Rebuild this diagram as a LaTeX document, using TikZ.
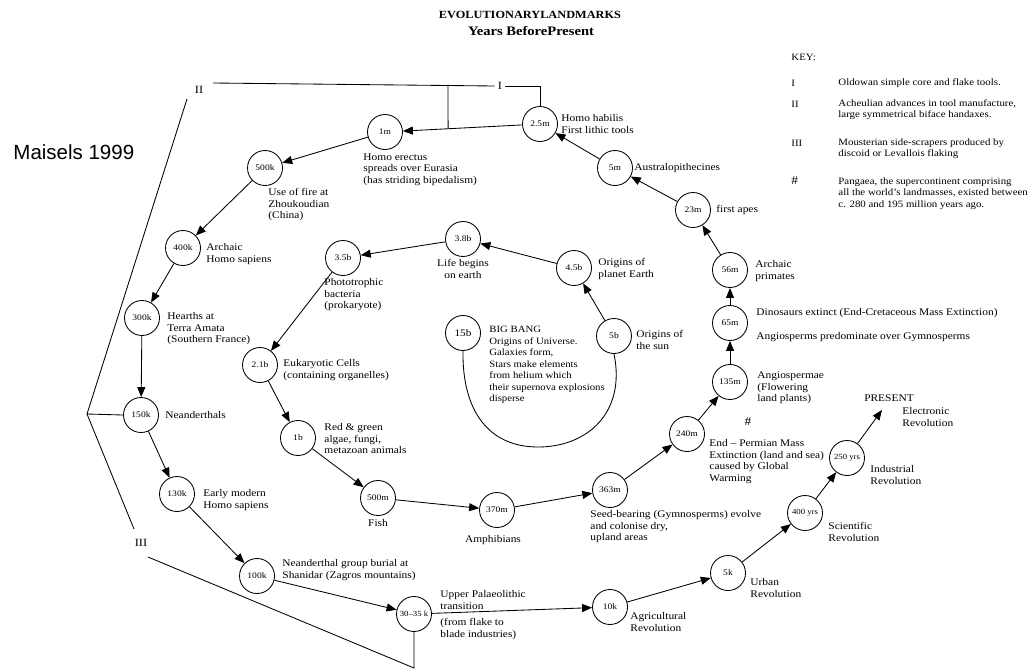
\documentclass[tikz,border=0pt]{standalone}
\usepackage{fontspec}
\setmainfont{Liberation Serif}[FakeStretch=1.12]
\newfontfamily\maisfont{Liberation Sans}
\usetikzlibrary{arrows.meta, calc}

\begin{document}
\begin{tikzpicture}[x=1pt, y=-1pt, >={Triangle[length=10pt, width=8pt]}, line width=0.85pt,
    yr/.style={circle, draw, minimum size=35pt, inner sep=0pt, font=\fontsize{8.5}{9}\selectfont},
    note/.style={align=left, inner sep=0pt, font=\fontsize{10.2}{11.5}\selectfont},
    keytext/.style={align=left, inner sep=0pt, font=\fontsize{9.7}{11.5}\selectfont},
    numeral/.style={inner sep=3pt, font=\fontsize{11}{12}\selectfont},
    ttl/.style={inner sep=0pt, font=\fontsize{11}{13}\selectfont\bfseries}]
    \useasboundingbox (0,0) rectangle (1033,670);

    \node[ttl] (title) at (530,15) {EVOLUTIONARYLANDMARKS};
    \node[ttl, font=\fontsize{13}{14}\selectfont\bfseries] (subtitle) at (531,31) {Years BeforePresent};
    \node[anchor=west, inner sep=0pt] (src) at (13,152) {\maisfont\fontsize{20.5}{24}\selectfont Maisels 1999};

    \node[keytext, anchor=west] (key) at (791,57) {KEY:};
    \node[keytext, anchor=west] (kI) at (791,83) {I};
    \node[keytext, anchor=west] (kII) at (791,104) {II};
    \node[keytext, anchor=west] (kIII) at (791,143) {III};
    \node[keytext, anchor=west, font=\fontsize{12}{12}\selectfont] (kH) at (791,181) {\#};
    \node[keytext, anchor=north west] (kIt) at (838,78) {Oldowan simple core and flake tools.};
    \node[keytext, anchor=north west] (kIIt) at (838,99) {Acheulian advances in tool manufacture,\\large symmetrical biface handaxes.};
    \node[keytext, anchor=north west] (kIIIt) at (838,138) {Mousterian side-scrapers produced by\\discoid or Levallois flaking};
    \node[keytext, anchor=north west] (kHt) at (838,177) {Pangaea, the supercontinent comprising\\all the world's landmasses, existed between\\c. 280 and 195 million years ago.};

    \node[yr] (m25) at (540,124) {2.5m};
    \node[yr] (m1) at (385,132) {1m};
    \node[yr] (k500) at (265,168) {500k};
    \node[yr] (k400) at (183,248) {400k};
    \node[yr] (k300) at (142,318) {300k};
    \node[yr] (k150) at (141,415) {150k};
    \node[yr] (k130) at (177,494) {130k};
    \node[yr] (k100) at (257,576) {100k};
    \node[yr, font=\fontsize{7.8}{9}\selectfont] (k30) at (414,614) {30--35 k};
    \node[yr] (k10) at (610,607) {10k};
    \node[yr] (k5) at (728,573) {5k};
    \node[yr, font=\fontsize{7.8}{9}\selectfont] (y400) at (805,513) {400 yrs};
    \node[yr, font=\fontsize{7.8}{9}\selectfont] (y250) at (847,458) {250 yrs};
    \node[yr, font=\fontsize{10}{11}\selectfont] (b15) at (463,333) {15b};
    \node[yr] (b5) at (614,336) {5b};
    \node[yr] (b45) at (574,268) {4.5b};
    \node[yr] (b38) at (463,239) {3.8b};
    \node[yr] (b35) at (343,258) {3.5b};
    \node[yr] (b21) at (260,365) {2.1b};
    \node[yr] (b1) at (298,438) {1b};
    \node[yr] (m500) at (378,498) {500m};
    \node[yr] (m370) at (497,510) {370m};
    \node[yr] (m363) at (610,490) {363m};
    \node[yr] (m240) at (687,434) {240m};
    \node[yr] (m135) at (730,382) {135m};
    \node[yr] (m65) at (730,323) {65m};
    \node[yr] (m56) at (730,270) {56m};
    \node[yr] (m23) at (693,210) {23m};
    \node[yr] (m5) at (615,168) {5m};

    \node[note, anchor=west] (t25) at (561,124) {Homo habilis\\First lithic tools};
    \node[note, anchor=north west] (t1) at (363,153) {Homo erectus\\spreads over Eurasia\\(has striding bipedalism)};
    \node[note, anchor=north west] (t500k) at (268,188) {Use of fire at\\Zhoukoudian\\(China)};
    \node[note, anchor=north west] (t400k) at (206,243) {Archaic\\Homo sapiens};
    \node[note, anchor=north west] (t300k) at (167,312) {Hearths at\\Terra Amata\\(Southern France)};
    \node[note, anchor=west] (t150k) at (165,415) {Neanderthals};
    \node[note, anchor=north west] (t130k) at (203,489) {Early modern\\Homo sapiens};
    \node[note, anchor=north west] (t100k) at (282,559) {Neanderthal group burial at\\Shanidar (Zagros mountains)};
    \node[note, anchor=south west] (t30a) at (440,610) {Upper Palaeolithic\\transition};
    \node[note, anchor=north west] (t30b) at (440,618) {(from flake to\\blade industries)};
    \node[note, anchor=north west] (t10k) at (630,612) {Agricultural\\Revolution};
    \node[note, anchor=north west] (t5k) at (750,578) {Urban\\Revolution};
    \node[note, anchor=north west] (t400y) at (828,522) {Scientific\\Revolution};
    \node[note, anchor=north west] (t250y) at (870,465) {Industrial\\Revolution};
    \node[note] (pres) at (889,398) {PRESENT};
    \node[note, anchor=north west] (tnow) at (902,407) {Electronic\\Revolution};
    \node[note, anchor=west] (t135) at (757,388) {Angiospermae\\(Flowering\\land plants)};
    \node[note, anchor=west] (t65a) at (756,313) {Dinosaurs extinct (End-Cretaceous Mass Extinction)};
    \node[note, anchor=west] (t65b) at (756,337) {Angiosperms predominate over Gymnosperms};
    \node[note, anchor=west] (t56) at (755,271) {Archaic\\primates};
    \node[note, anchor=west] (t23) at (716,210) {first apes};
    \node[note, anchor=west] (t5m) at (634,168) {Australopithecines};
    \node[note, anchor=west] (t45) at (598,269) {Origins of\\planet Earth};
    \node[note, anchor=west] (t5b) at (636,340) {Origins of\\the sun};
    \node[note, anchor=north, align=center] (t38) at (463,259) {Life begins\\on earth};
    \node[note, anchor=north west] (t35) at (324,278) {Phototrophic\\bacteria\\(prokaryote)};
    \node[note, anchor=west] (t21) at (283,370) {Eukaryotic Cells\\(containing organelles)};
    \node[note, anchor=west] (t1b) at (324,439) {Red \& green\\algae, fungi,\\metazoan animals};
    \node[note, anchor=north] (t500m) at (378,519) {Fish};
    \node[note, anchor=north] (t370) at (493,535) {Amphibians};
    \node[note, anchor=north west] (t363) at (590,510) {Seed-bearing (Gymnosperms) evolve\\and colonise dry,\\upland areas};
    \node[note, anchor=north west] (t240) at (709,439) {End -- Permian Mass\\Extinction (land and sea)\\caused by Global\\Warming};
    \node[note, font=\fontsize{12}{12}\selectfont] (hash) at (748,422) {\#};
    \node[note, anchor=north west, font=\fontsize{9.6}{11.5}\selectfont] (t15) at (489,326) {BIG BANG\\Origins of Universe.\\Galaxies form,\\Stars make elements\\from helium which\\their supernova explosions\\disperse};

    \node[numeral] (lI) at (500,86) {I};
    \node[numeral] (lII) at (199,90) {II};
    \node[numeral] (lIII) at (141,543) {III};
    \coordinate (topL) at (213,83);
    \coordinate (jT) at (448,84.5);
    \coordinate (jE) at ($(m25)!0.593!(m1)$);
    \coordinate (iiB) at (187,99);
    \coordinate (jL) at (87,414);
    \coordinate (iiiT) at (134,529);
    \coordinate (iiiB) at (148,557);
    \coordinate (jB) at (414,668);
    \coordinate (arcB) at (538,447);
    \coordinate (now) at (882,410);

    \draw (topL) -- (lI.west);
    \draw (lI.east) -| (m25.north);
    \draw (jT) -- (jE);
    \draw (iiB) -- (jL) -- (k150.west);
    \draw (jL) -- (iiiT);
    \draw (iiiB) -- (jB) -- (k30.south);

    \draw (b15.south) .. controls (462,410) and (488,447) .. (arcB) .. controls (588,447) and (626,412) .. (b5.south);
    \draw[->] (b5) -- (b45);
    \draw[->] (b45) -- (b38);
    \draw[->] (b38) -- (b35);
    \draw[->] (b35) -- (b21);
    \draw[->] (b21) -- (b1);
    \draw[->] (b1) -- (m500);
    \draw[->] (m500) -- (m370);
    \draw[->] (m370) -- (m363);
    \draw[->] (m363) -- (m240);
    \draw[->] (m240) -- (m135);
    \draw[->] (m135) -- (m65);
    \draw[->] (m65) -- (m56);
    \draw[->] (m56) -- (m23);
    \draw[->] (m23) -- (m5);
    \draw[->] (m5) -- (m25);
    \draw[->] (m25) -- (m1);
    \draw[->] (m1) -- (k500);
    \draw[->] (k500) -- (k400);
    \draw[->] (k400) -- (k300);
    \draw[->] (k300) -- (k150);
    \draw[->] (k150) -- (k130);
    \draw[->] (k130) -- (k100);
    \draw[->] (k100) -- (k30);
    \draw[->] (k30) -- (k10);
    \draw[->] (k10) -- (k5);
    \draw[->] (k5) -- (y400);
    \draw[->] (y400) -- (y250);
    \draw[->] (y250) -- (now);
\end{tikzpicture}
\end{document}
